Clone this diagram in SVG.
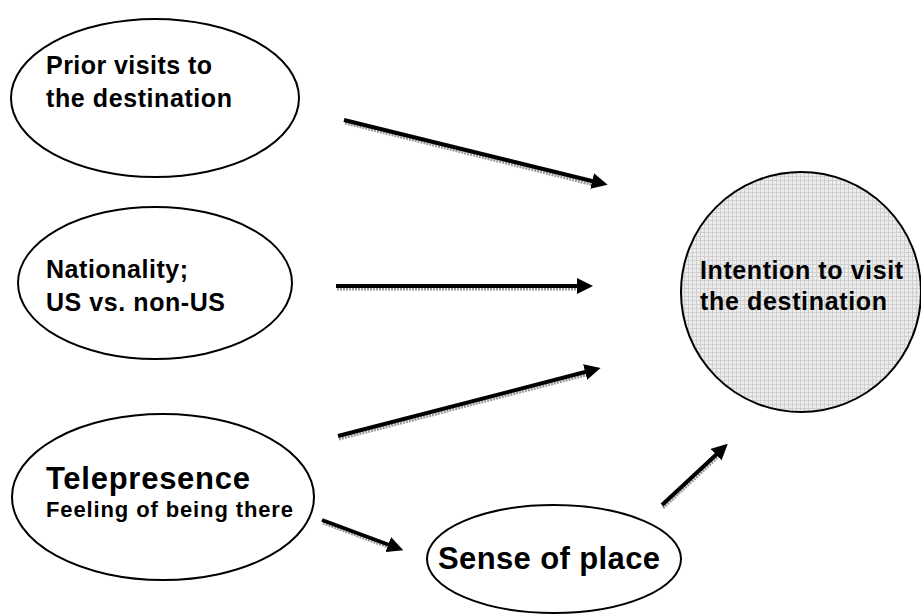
<svg xmlns="http://www.w3.org/2000/svg" width="921" height="614" viewBox="0 0 921 614">
<style>
.node{fill:#fff;stroke:#000;stroke-width:2}
.t{font-family:"Liberation Sans",Arial,sans-serif;font-weight:bold;fill:#000}
.conn{stroke:#000;stroke-width:4;fill:none;marker-end:url(#ah)}
.sh{stroke:#999;stroke-width:3;fill:none;stroke-dasharray:2 1}
</style>
<defs>
<pattern id="grid" width="4" height="4" patternUnits="userSpaceOnUse">
<rect width="4" height="4" fill="#ececec"/>
<path d="M0 0.5H4M0.5 0V4" stroke="#cfcfcf" stroke-width="1"/>
</pattern>
<marker id="ah" markerWidth="4" markerHeight="4" refX="1" refY="2" orient="auto" markerUnits="strokeWidth">
<path d="M0 0L4 2L0 4z" fill="#000"/>
</marker>
</defs>
<g id="connectors">
<path class="sh" d="M345 123L598 186"/>
<path class="conn" d="M344 120L596 182"/>
<path class="sh" d="M337 289L582 289"/>
<path class="conn" d="M336 286L581 286"/>
<path class="sh" d="M339 439L590 374"/>
<path class="conn" d="M338 436L589 371"/>
<path class="sh" d="M323 523L393 549"/>
<path class="conn" d="M322 520L392 546"/>
<path class="sh" d="M663 508L720 455"/>
<path class="conn" d="M662 505L719 452"/>
</g>
<g id="prior">
<ellipse class="node" cx="155" cy="98" rx="144" ry="79"/>
<text class="t" font-size="25" x="46" y="74" textLength="166">Prior visits to</text>
<text class="t" font-size="25" x="46" y="107" textLength="186">the destination</text>
</g>
<g id="nationality">
<ellipse class="node" cx="155" cy="283" rx="137" ry="76"/>
<text class="t" font-size="25" x="46" y="278" textLength="142">Nationality;</text>
<text class="t" font-size="25" x="46" y="311" textLength="179">US vs. non-US</text>
</g>
<g id="telepresence">
<ellipse class="node" cx="163" cy="497" rx="151" ry="83"/>
<text class="t" font-size="31" x="46" y="489" textLength="204">Telepresence</text>
<text class="t" font-size="22" x="46" y="517" textLength="247">Feeling of being there</text>
</g>
<g id="sense">
<ellipse class="node" cx="554" cy="559" rx="127" ry="54"/>
<text class="t" font-size="31" x="438" y="569" textLength="222">Sense of place</text>
</g>
<g id="intention">
<ellipse cx="801" cy="292" rx="120" ry="120" fill="url(#grid)" stroke="#000" stroke-width="2"/>
<text class="t" font-size="25" x="700" y="279" textLength="203">Intention to visit</text>
<text class="t" font-size="25" x="700" y="310" textLength="187">the destination</text>
</g>
</svg>
